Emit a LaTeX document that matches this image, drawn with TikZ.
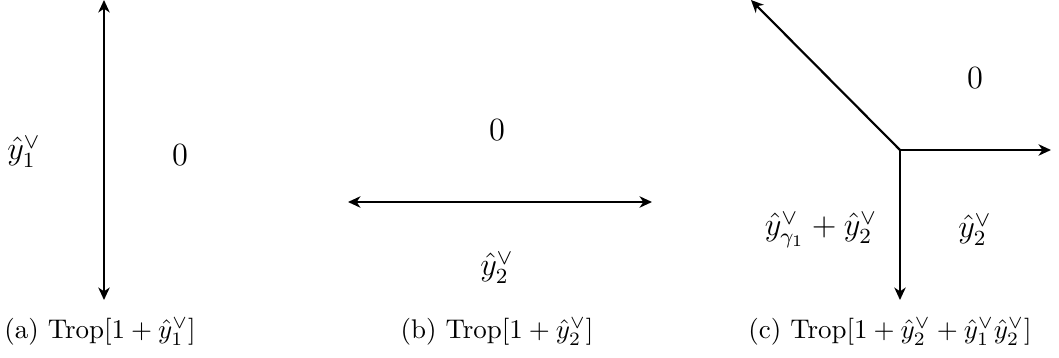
\documentclass[tikz,border=0pt]{standalone}
\usepackage{amsmath,amssymb}
\usetikzlibrary{arrows.meta}
\begin{document}
\begin{tikzpicture}[x=0.3704pt,y=-0.3704pt,
  tip/.tip={Stealth[length=4.6pt,width=4.2pt,inset=1.4pt]},
  ray/.style={line width=0.8pt,-tip},
  dray/.style={line width=0.8pt,tip-tip},
  lbl/.style={font=\large,inner sep=0pt},
  captxt/.style={font=\normalsize,inner sep=0pt}]
\useasboundingbox (0,0) rectangle (1059,358);
% (a)
\coordinate (aT) at (104,0);
\coordinate (aB) at (104,300);
\draw[dray] (aB) -- (aT);
\node[lbl] (aL) at (24,152) {$\hat{y}_1^{\vee}$};
\node[lbl] (aR) at (180,155) {$0$};
\node[captxt] (aC) at (100,332) {(a) $\mathrm{Trop}[1+\hat{y}_1^{\vee}]$};
% (b)
\coordinate (bL) at (348,202);
\coordinate (bR) at (652,202);
\draw[dray] (bL) -- (bR);
\node[lbl] (bT) at (497,130) {$0$};
\node[lbl] (bB) at (497,268) {$\hat{y}_2^{\vee}$};
\node[captxt] (bC) at (497,332) {(b) $\mathrm{Trop}[1+\hat{y}_2^{\vee}]$};
% (c)
\coordinate (v) at (900,150);
\coordinate (cUL) at (751,0);
\coordinate (cR) at (1051,150);
\coordinate (cD) at (900,300);
\draw[ray] (v) -- (cUL);
\draw[ray] (v) -- (cR);
\draw[ray] (v) -- (cD);
\node[lbl] (c0) at (975,78) {$0$};
\node[lbl] (cL) at (821,230) {$\hat{y}_{\gamma_1}^{\vee}+\hat{y}_2^{\vee}$};
\node[lbl] (cRl) at (975,230) {$\hat{y}_2^{\vee}$};
\node[captxt] (cC) at (890,332) {(c) $\mathrm{Trop}[1+\hat{y}_2^{\vee}+\hat{y}_1^{\vee}\hat{y}_2^{\vee}]$};
\end{tikzpicture}
\end{document}
